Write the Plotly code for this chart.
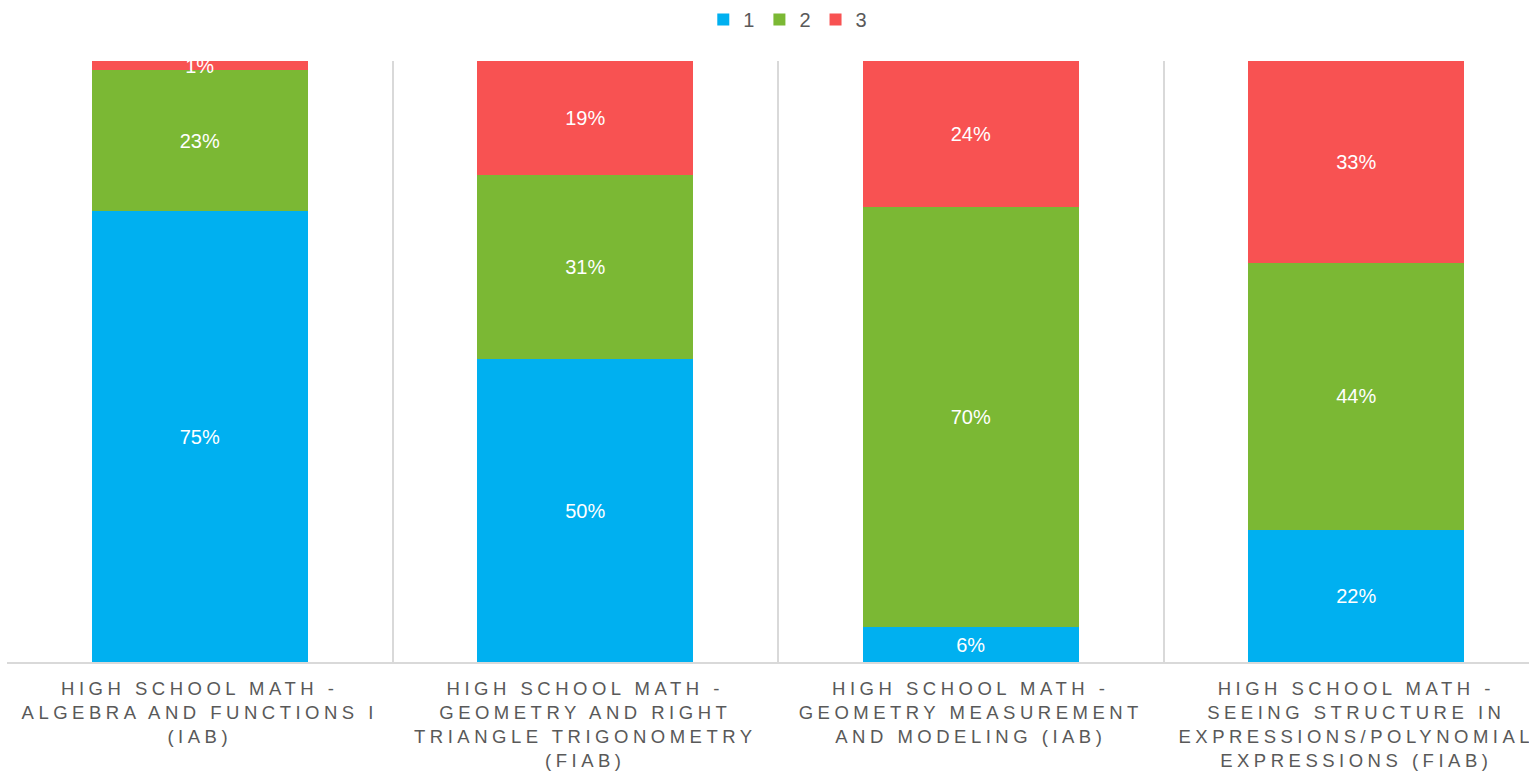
import plotly.graph_objects as go

categories = [
    "HIGH SCHOOL MATH -<br>ALGEBRA AND FUNCTIONS I<br>(IAB)",
    "HIGH SCHOOL MATH -<br>GEOMETRY AND RIGHT<br>TRIANGLE TRIGONOMETRY<br>(FIAB)",
    "HIGH SCHOOL MATH -<br>GEOMETRY MEASUREMENT<br>AND MODELING (IAB)",
    "HIGH SCHOOL MATH -<br>SEEING STRUCTURE IN<br>EXPRESSIONS/POLYNOMIAL<br>EXPRESSIONS (FIAB)",
]
series_names = ["1", "2", "3"]
values_1 = [75.0, 50.4, 5.8, 22.0]
values_2 = [23.5, 30.6, 69.9, 44.4]
values_3 = [1.5, 19.0, 24.3, 33.6]
labels_1 = ["75%", "50%", "6%", "22%"]
labels_2 = ["23%", "31%", "70%", "44%"]
labels_3 = ["1%", "19%", "24%", "33%"]
colors = ["#00B0F0", "#7BB834", "#F85252"]

FONT = "Liberation Sans, Arial, sans-serif"

fig = go.Figure()
for name, vals, labs, col in zip(series_names, [values_1, values_2, values_3],
                                 [labels_1, labels_2, labels_3], colors):
    fig.add_trace(go.Bar(
        x=categories, y=vals, name=name, text=labs,
        marker=dict(color=col, line=dict(width=0)),
        textposition="inside", insidetextanchor="middle",
        constraintext="none", cliponaxis=False,
        textfont=dict(family=FONT, size=20, color="white"),
        texttemplate="%{text}", hoverinfo="skip",
    ))

fig.update_layout(
    barmode="stack",
    bargap=0.44,
    width=1529, height=775,
    margin=dict(l=7, r=0, t=61, b=113),
    plot_bgcolor="white", paper_bgcolor="white",
    uniformtext=dict(minsize=20, mode="show"),
    showlegend=True,
    legend=dict(orientation="h", x=0.513, xanchor="center", y=1.0, yanchor="top",
                yref="container", font=dict(family=FONT, size=20, color="#595959"),
                itemwidth=30, traceorder="normal", tracegroupgap=0),
    xaxis=dict(
        type="category", range=[-0.5, 3.448], tickson="boundaries",
        showgrid=True, gridcolor="#D9D9D9", gridwidth=1.5,
        showline=True, linecolor="#D9D9D9", linewidth=1.5,
        ticks="", tickangle=0, ticklabelstandoff=9,
        tickfont=dict(family=FONT, size=18.5, color="#595959"),
    ),
    yaxis=dict(range=[0, 100], visible=False, showgrid=False, zeroline=False),
)

post = ("var s=document.createElement('style');"
        "s.innerHTML='html,body{margin:0;padding:0;overflow:hidden;} .xtick text{letter-spacing:4.5px;}';"
        "document.head.appendChild(s);")
fig.write_html("out.html", post_script=post, config={"displayModeBar": False})
